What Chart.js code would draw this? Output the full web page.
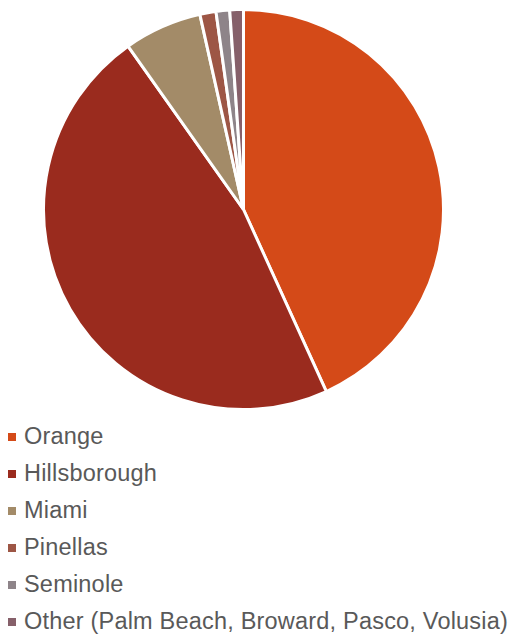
<!DOCTYPE html>
<html>
<head>
<meta charset="utf-8">
<script src="https://cdn.jsdelivr.net/npm/chart.js@4/dist/chart.umd.min.js"></script>
<style>
  html, body { margin: 0; padding: 0; background: #fff; }
  body { width: 511px; height: 635px; position: relative; overflow: hidden; font-family: "Liberation Sans", Arial, sans-serif; }
  #wrap { position: absolute; left: 42px; top: 8px; width: 403px; height: 403px; }
  #legend { position: absolute; left: 0; top: 418px; margin: 0; padding: 0; list-style: none; }
  #legend li { position: relative; height: 37px; line-height: 37px; font-size: 23.5px; letter-spacing: 0.2px; color: #595959; padding-left: 24px; white-space: nowrap; }
  #legend li span { position: absolute; left: 8px; top: 15px; width: 8px; height: 8px; }
</style>
</head>
<body>
<div id="wrap"><canvas id="c"></canvas></div>
<ul id="legend"></ul>
<script>
const categories = ["Orange", "Hillsborough", "Miami", "Pinellas", "Seminole", "Other (Palm Beach, Broward, Pasco, Volusia)"];
const values = [43.2, 47.0, 6.3, 1.3, 1.1, 1.1];
const colors = ["#D44A18", "#9A2B1E", "#A38B68", "#9D5645", "#8E8489", "#86606A"];

const chart = new Chart(document.getElementById("c"), {
  type: "pie",
  data: {
    labels: categories,
    datasets: [{
      data: values,
      backgroundColor: colors,
      borderColor: "#ffffff",
      borderWidth: 3
    }]
  },
  options: {
    responsive: true,
    maintainAspectRatio: false,
    animation: false,
    layout: { padding: 0 },
    plugins: { legend: { display: false }, tooltip: { enabled: false } }
  }
});

const ul = document.getElementById("legend");
chart.data.labels.forEach((lab, i) => {
  const li = document.createElement("li");
  const sw = document.createElement("span");
  sw.style.background = chart.data.datasets[0].backgroundColor[i];
  li.appendChild(sw);
  li.appendChild(document.createTextNode(lab));
  ul.appendChild(li);
});
</script>
</body>
</html>
